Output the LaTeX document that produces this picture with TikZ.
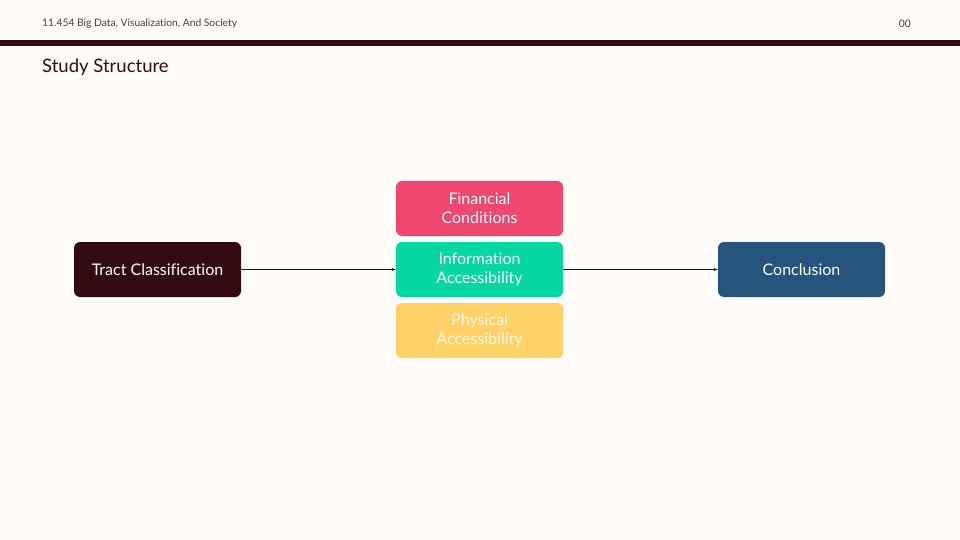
\documentclass[tikz,border=0pt]{standalone}
\usepackage{fontspec}
\setmainfont{Lato}[Ligatures=NoCommon]
\usetikzlibrary{calc}
\definecolor{pagebg}{HTML}{FFFCF9}
\definecolor{barcol}{HTML}{370B10}
\definecolor{tractcol}{HTML}{330A10}
\definecolor{fincol}{HTML}{EF476F}
\definecolor{infocol}{HTML}{06D6A0}
\definecolor{physcol}{HTML}{FFD166}
\definecolor{conccol}{HTML}{26547C}
\newcommand{\fsize}[1]{\fontsize{#1}{1.2\dimexpr#1\relax}\selectfont}
\tikzset{
  stagebox/.style={rounded corners=6pt, minimum width=167pt, minimum height=55pt,
    text=white, align=center, font=\fsize{16pt}, inner sep=0pt},
  flow/.style={-latex, thin, draw=barcol}
}

\begin{document}
\begin{tikzpicture}[x=1pt, y=-1pt]
                \useasboundingbox[fill=pagebg] (0,0) rectangle (960,540);
                \fill[barcol] (0,40) rectangle (960,46);
                \node[anchor=west, text=black!75, font=\fsize{10.3pt}, inner sep=0pt] (course) at (42,24) {11.454 Big Data, Visualization, And Society};
                \node[anchor=east, text=black!75, font=\fsize{10.3pt}, inner sep=0pt] (page) at (911,24) {00};
                \node[anchor=west, text=tractcol, font=\fsize{18.5pt}, inner sep=0pt] (title) at (42,67.5) {Study Structure};
    
                \node[stagebox, fill=tractcol] (tract) at (157.5,269.5) {Tract Classification};
                \node[stagebox, fill=fincol] (fin) at (479.5,208.5) {Financial\\Conditions};
                \node[stagebox, fill=infocol] (info) at (479.5,269.5) {Information\\Accessibility};
                \node[stagebox, fill=physcol, text=white!85!physcol] (phys) at (479.5,330.5) {Physical\\Accessibility};
                \node[stagebox, fill=conccol] (conc) at (801.5,269.5) {Conclusion};
    
                \draw[flow] (tract) -- (info);
                \draw[flow] (info) -- (conc);
            \end{tikzpicture}
\end{document}
